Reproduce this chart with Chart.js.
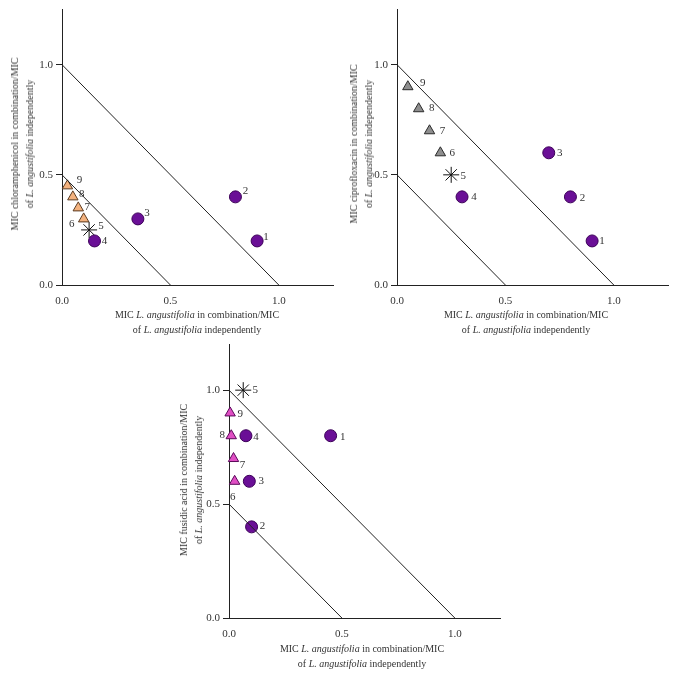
<!DOCTYPE html>
<html>
<head>
<meta charset="utf-8">
<script src="https://cdn.jsdelivr.net/npm/chart.js@4/dist/chart.umd.min.js"></script>
<style>
  body { margin: 0; background: #fff; }
  #page { position: relative; width: 675px; height: 686px; overflow: hidden; }
  canvas { position: absolute; }
  .title {
    position: absolute;
    font-family: "Liberation Serif", "DejaVu Serif", serif;
    font-size: 10px;
    color: #333;
    line-height: 15px;
    text-align: center;
    white-space: nowrap;
  }
  .ytitle { transform: translate(-50%, -50%) rotate(-90deg); }
  .xtitle { transform: translateX(-50%); }
</style>
</head>
<body>
<div id="page">
  <canvas id="chlor" width="340" height="320" style="left:0;top:0"></canvas>
  <canvas id="cipro" width="345" height="320" style="left:330px;top:0"></canvas>
  <canvas id="fusid" width="350" height="320" style="left:160px;top:335px"></canvas>

  <div class="title ytitle" style="left:22px;top:144px">MIC chloramphenicol in combination/MIC<br>of <i>L. angustifolia</i> independently</div>
  <div class="title xtitle" style="left:197px;top:307px">MIC <i>L. angustifolia</i> in combination/MIC<br>of <i>L. angustifolia</i> independently</div>

  <div class="title ytitle" style="left:361px;top:144px">MIC ciprofloxacin in combination/MIC<br>of <i>L. angustifolia</i> independently</div>
  <div class="title xtitle" style="left:526px;top:307px">MIC <i>L. angustifolia</i> in combination/MIC<br>of <i>L. angustifolia</i> independently</div>

  <div class="title ytitle" style="left:191px;top:480px">MIC fusidic acid in combination/MIC<br>of <i>L. angustifolia</i> independently</div>
  <div class="title xtitle" style="left:362px;top:641px">MIC <i>L. angustifolia</i> in combination/MIC<br>of <i>L. angustifolia</i> independently</div>
</div>
<script>
// combination numbers written next to each point
const pointLabels = ["1", "2", "3", "4", "5", "6", "7", "8", "9"];

// isobole lines (additive and synergy limits)
const additiveX = [0, 1];
const additiveY = [1, 0];
const synergyX = [0, 0.5];
const synergyY = [0.5, 0];

// chloramphenicol
const chlorX = [0.9, 0.8, 0.35, 0.15, 0.125, 0.1, 0.075, 0.05, 0.025];
const chlorY = [0.2, 0.4, 0.3, 0.2, 0.25, 0.3, 0.35, 0.4, 0.45];

// ciprofloxacin
const ciproX = [0.9, 0.8, 0.7, 0.3, 0.25, 0.2, 0.15, 0.1, 0.05];
const ciproY = [0.2, 0.4, 0.6, 0.4, 0.5, 0.6, 0.7, 0.8, 0.9];

// fusidic acid
const fusidX = [0.45, 0.1, 0.09, 0.075, 0.063, 0.025, 0.02, 0.01, 0.005];
const fusidY = [0.8, 0.4, 0.6, 0.8, 1.0, 0.6, 0.7, 0.8, 0.9];

const tickValues = [0, 0.5, 1];

// label offsets in pixels (style only)
const chlorOffsets = [[9, -4], [10, -6], [9, -6], [10, 0], [12, -4], [-12, 5], [9, -1], [9, -3], [12, -6]];
const ciproOffsets = [[10, 0], [12, 1], [11, 0], [12, 0], [12, 1], [12, 0], [13, 0], [13, -1], [15, -4]];
const fusidOffsets = [[12, 1], [11, -1], [12, 0], [10, 1], [12, 0], [-2, 16], [9, 7], [-9, -1], [10, 1]];

const serif = "'Liberation Serif', 'DejaVu Serif', serif";
const purple = "#6a0f96";
const purpleEdge = "#3c0058";

function toPoints(xs, ys, from, to) {
  const out = [];
  for (let i = from; i < to; i++) out.push({ x: xs[i], y: ys[i] });
  return out;
}

// draws the combination numbers next to the markers
const numberLabels = {
  id: "numberLabels",
  afterDatasetsDraw(chart, args, opts) {
    const { ctx, scales } = chart;
    ctx.save();
    ctx.font = "11px " + serif;
    ctx.fillStyle = "#333";
    ctx.textAlign = "center";
    ctx.textBaseline = "middle";
    opts.xs.forEach((v, i) => {
      const px = scales.x.getPixelForValue(v) + opts.offsets[i][0];
      const py = scales.y.getPixelForValue(opts.ys[i]) + opts.offsets[i][1];
      ctx.fillText(pointLabels[i], px, py);
    });
    ctx.restore();
  },
};

function makeChart(id, xs, ys, offsets, triColor, triEdge, opt) {
  const lineStyle = {
    type: "line",
    borderColor: "#222",
    borderWidth: 1,
    pointRadius: 0,
    showLine: true,
    fill: false,
  };
  return new Chart(document.getElementById(id), {
    type: "scatter",
    data: {
      datasets: [
        { ...lineStyle, data: additiveX.map((v, i) => ({ x: v, y: additiveY[i] })) },
        { ...lineStyle, data: synergyX.map((v, i) => ({ x: v, y: synergyY[i] })) },
        {
          data: toPoints(xs, ys, 0, 4),
          pointStyle: "circle",
          pointRadius: 6,
          backgroundColor: purple,
          borderColor: purpleEdge,
          borderWidth: 1,
          clip: false,
        },
        {
          data: toPoints(xs, ys, 4, 5),
          pointStyle: "star",
          pointRadius: 8,
          borderColor: "#111",
          borderWidth: 1,
          clip: false,
        },
        {
          data: toPoints(xs, ys, 5, 9),
          pointStyle: "triangle",
          pointRadius: 6,
          backgroundColor: triColor,
          borderColor: triEdge,
          borderWidth: 1,
          clip: false,
        },
      ],
    },
    options: {
      responsive: false,
      animation: false,
      events: [],
      layout: { autoPadding: false, padding: { top: opt.top, right: opt.right, left: 0, bottom: 0 } },
      plugins: {
        legend: { display: false },
        tooltip: { enabled: false },
        numberLabels: { xs: xs, ys: ys, offsets: offsets },
      },
      scales: {
        x: {
          type: "linear",
          min: 0,
          max: opt.max,
          afterBuildTicks: (s) => { s.ticks = tickValues.map((v) => ({ value: v })); },
          afterFit: (s) => { s.height = opt.xh; },
          grid: { display: false },
          border: { color: "#222", width: 1 },
          ticks: {
            padding: 2,
            color: "#333",
            font: { family: serif, size: 11 },
            callback: (v) => v.toFixed(1),
          },
        },
        y: {
          type: "linear",
          min: 0,
          max: opt.max,
          afterBuildTicks: (s) => { s.ticks = tickValues.map((v) => ({ value: v })); },
          afterFit: (s) => { s.width = opt.yw; },
          grid: { drawOnChartArea: false, drawTicks: true, tickLength: 6, color: "#222" },
          border: { color: "#222", width: 1 },
          ticks: {
            padding: 3,
            color: "#333",
            font: { family: serif, size: 11 },
            callback: (v) => v.toFixed(1),
          },
        },
      },
    },
    plugins: [numberLabels],
  });
}

makeChart("chlor", chlorX, chlorY, chlorOffsets, "#f4b27e", "#5a3a20",
  { top: 8, right: 7, max: 1.25, yw: 62, xh: 35 });
makeChart("cipro", ciproX, ciproY, ciproOffsets, "#8e8e8e", "#2a2a2a",
  { top: 8, right: 7, max: 1.25, yw: 67, xh: 35 });
makeChart("fusid", fusidX, fusidY, fusidOffsets, "#e04ec4", "#5a0a5a",
  { top: 7, right: 10, max: 1.2, yw: 69, xh: 37 });
</script>
</body>
</html>
